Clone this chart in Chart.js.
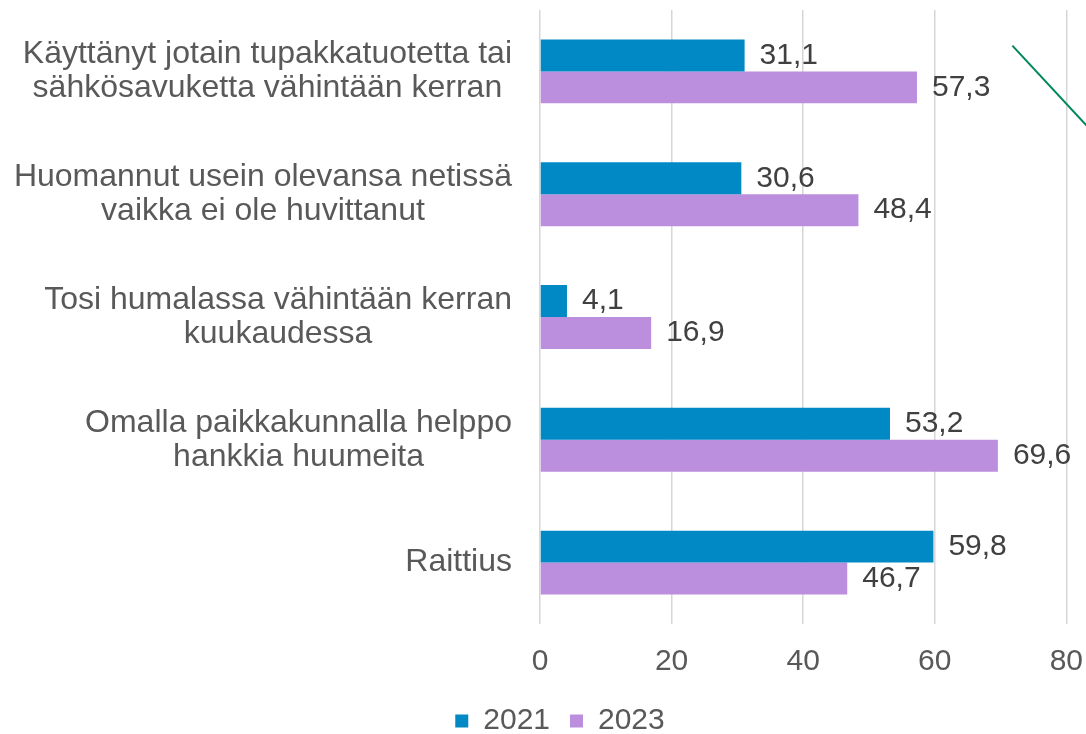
<!DOCTYPE html>
<html lang="fi">
<head>
<meta charset="utf-8">
<title>Nuorten terveystottumukset 2021 ja 2023</title>
<script src="https://cdn.jsdelivr.net/npm/chart.js@4/dist/chart.umd.min.js"></script>
<style>
    html, body { margin: 0; padding: 0; background: #ffffff; overflow: hidden; }
    /* a little wider than the window: the axis end padding is cropped off like in the original */
    #wrap { position: relative; width: 1103px; height: 746px; }
</style>
</head>
<body>
<div id="wrap"><canvas id="chart"></canvas></div>
<script>
// Categories (each entry = lines of a wrapped label)
const categories = [
    ['Käyttänyt jotain tupakkatuotetta tai', 'sähkösavuketta vähintään kerran'],
    ['Huomannut usein olevansa netissä', 'vaikka ei ole huvittanut'],
    ['Tosi humalassa vähintään kerran', 'kuukaudessa'],
    ['Omalla paikkakunnalla helppo', 'hankkia huumeita'],
    ['Raittius']
];

// Series values (%)
const values2021 = [31.1, 30.6, 4.1, 53.2, 59.8];
const values2023 = [57.3, 48.4, 16.9, 69.6, 46.7];

const seriesNames = ['2021', '2023'];

// x axis ticks
const xTicks = [0, 20, 40, 60, 80];

// Green connector line seen top right, in axis units [x value, category index]
const connectorFrom = [71.8, -0.21];
const connectorTo = [86, 0.61];

const FONT = '"Liberation Sans", Arial, sans-serif';
const TEXT_GREY = '#595959';
const LABEL_DARK = '#404040';
const PAD_LEFT = 17;

const fmt = v => v.toFixed(1).replace('.', ',');

// Wrapped category labels: lines centered inside a right aligned block
const categoryLabels = {
    id: 'categoryLabels',
    afterDraw(chart) {
        const ctx = chart.ctx;
        const yScale = chart.scales.y;
        const right = chart.chartArea.left - 28;
        const lineH = 34;
        ctx.save();
        ctx.font = '32px ' + FONT;
        ctx.fillStyle = TEXT_GREY;
        ctx.textAlign = 'center';
        ctx.textBaseline = 'middle';
        categories.forEach((lines, i) => {
            const yc = yScale.getPixelForValue(i);
            const maxW = Math.max(...lines.map(l => ctx.measureText(l).width));
            const cx = right - maxW / 2;
            const y0 = yc - (lines.length - 1) * lineH / 2;
            lines.forEach((line, j) => ctx.fillText(line, cx, y0 + j * lineH));
        });
        ctx.restore();
    }
};

// Value labels at bar ends
const valueLabels = {
    id: 'valueLabels',
    afterDatasetsDraw(chart) {
        const ctx = chart.ctx;
        ctx.save();
        ctx.font = '30px ' + FONT;
        ctx.fillStyle = LABEL_DARK;
        ctx.textAlign = 'left';
        ctx.textBaseline = 'middle';
        chart.data.datasets.forEach((ds, di) => {
            chart.getDatasetMeta(di).data.forEach((bar, i) => {
                ctx.fillText(fmt(ds.data[i]), bar.x + 15, bar.y);
            });
        });
        ctx.restore();
    }
};

// Thin green line drawn over the plot
const connector = {
    id: 'connector',
    afterDraw(chart) {
        const { x, y } = chart.scales;
        const ctx = chart.ctx;
        ctx.save();
        ctx.strokeStyle = '#00875a';
        ctx.lineWidth = 2;
        ctx.beginPath();
        ctx.moveTo(x.getPixelForValue(connectorFrom[0]), y.getPixelForValue(connectorFrom[1]));
        ctx.lineTo(x.getPixelForValue(connectorTo[0]), y.getPixelForValue(connectorTo[1]));
        ctx.stroke();
        ctx.restore();
    }
};

const ctx = document.getElementById('chart').getContext('2d');
new Chart(ctx, {
    type: 'bar',
    data: {
        labels: categories,
        datasets: [
            {
                label: seriesNames[0],
                data: values2021,
                backgroundColor: 'rgb(0, 137, 196)',
                categoryPercentage: 0.52,
                barPercentage: 1
            },
            {
                label: seriesNames[1],
                data: values2023,
                backgroundColor: 'rgb(187, 142, 222)',
                categoryPercentage: 0.52,
                barPercentage: 1
            }
        ]
    },
    options: {
        indexAxis: 'y',
        responsive: true,
        maintainAspectRatio: false,
        animation: false,
        layout: {
            padding: { left: PAD_LEFT, right: 0, top: 10, bottom: 0 }
        },
        plugins: {
            legend: {
                position: 'bottom',
                labels: {
                    boxWidth: 13,
                    boxHeight: 13,
                    padding: 20,
                    color: TEXT_GREY,
                    font: { family: FONT, size: 30 }
                }
            },
            tooltip: { enabled: false }
        },
        scales: {
            x: {
                min: 0,
                max: 80,
                afterBuildTicks: scale => {
                    scale.ticks = xTicks.map(v => ({ value: v }));
                },
                afterFit: scale => { scale.height = 62; },
                border: { display: false },
                grid: { color: '#d6d6d6', lineWidth: 1.5, drawTicks: false },
                ticks: {
                    padding: 20,
                    color: TEXT_GREY,
                    font: { family: FONT, size: 30 }
                }
            },
            y: {
                afterFit: scale => { scale.width = 540 - PAD_LEFT; },
                border: { display: false },
                grid: { display: false },
                ticks: { display: false }
            }
        }
    },
    plugins: [categoryLabels, valueLabels, connector]
});
</script>
</body>
</html>
